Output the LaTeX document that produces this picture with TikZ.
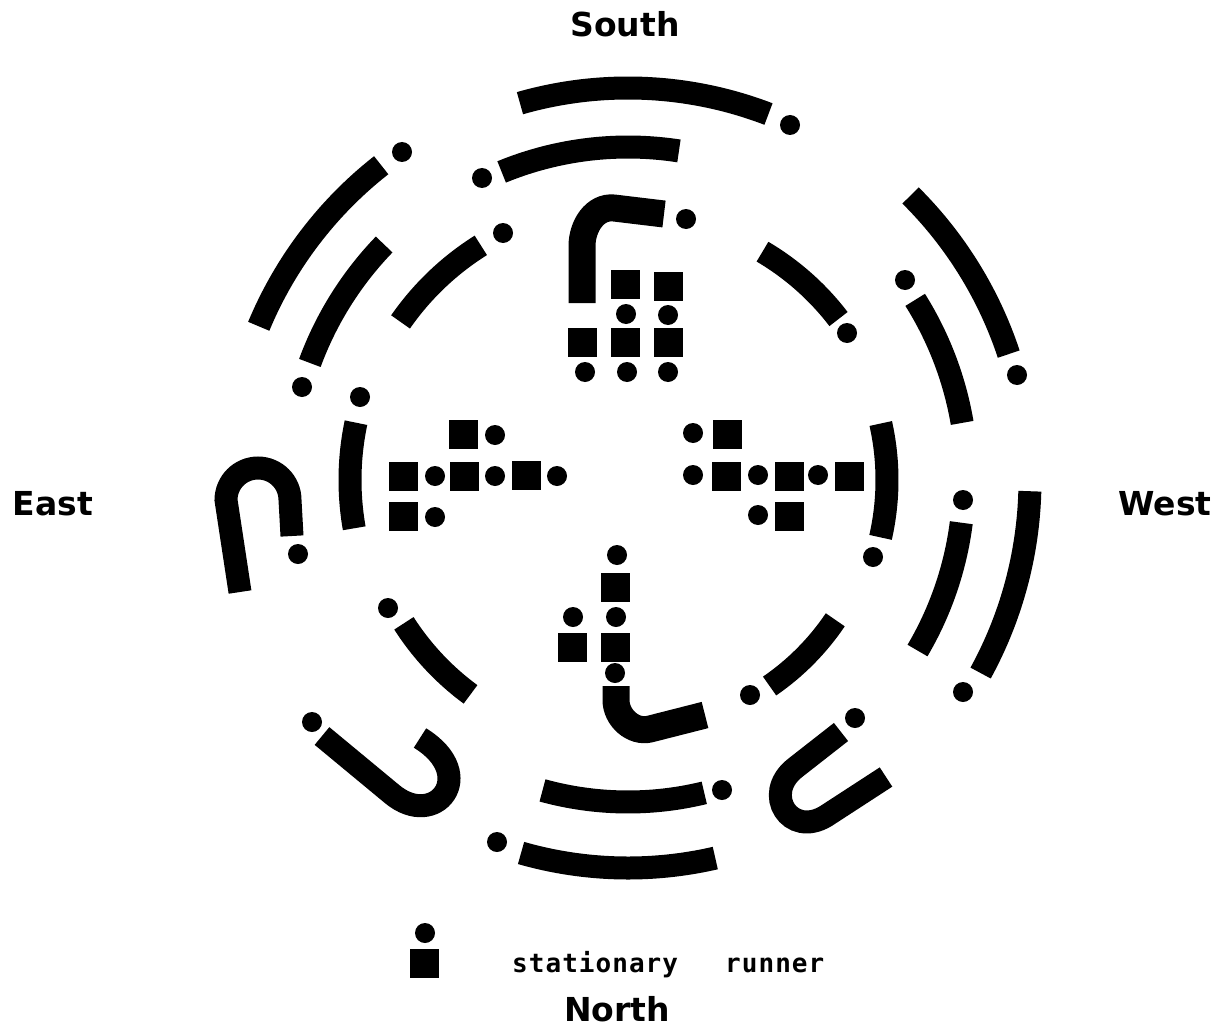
\documentclass[tikz,border=0pt]{standalone}
\usepackage{fontspec}
\newfontfamily\labfont{DejaVu Sans}
\newfontfamily\legfont[LetterSpace=4]{DejaVu Sans Mono}
\begin{document}
\begin{tikzpicture}[x=1pt,y=-1pt,
  ring/.style={line width=23pt},
  hook/.style={line width=27pt},
  compass/.style={font=\labfont\bfseries\fontsize{33}{36}\selectfont, inner sep=0pt, anchor=base},
  legtext/.style={font=\legfont\bfseries\fontsize{26}{28}\selectfont, inner sep=0pt, anchor=base west}]
\useasboundingbox (0,0) rectangle (1222,1027);
\coordinate (C) at (628,480);

% outer ring
\draw[ring] (C) ++(-106:392) arc[start angle=-106, end angle=-69, radius=392];
\draw[ring] (C) ++(-45.2:401) arc[start angle=-45.2, end angle=-18.3, radius=401];
\draw[ring] (C) ++(1.6:402) arc[start angle=1.6, end angle=28.7, radius=402];
\draw[ring] (C) ++(77:388) arc[start angle=77, end angle=106, radius=388];
\draw[ring] (C) ++(-128.1:400) arc[start angle=-128.1, end angle=-157.4, radius=400];

% second ring
\draw[ring] (C) ++(-112.3:333) arc[start angle=-112.3, end angle=-81.2, radius=333];
\draw[ring] (C) ++(-136:339) arc[start angle=-136, end angle=-159.8, radius=339];
\draw[ring] (C) ++(-32.1:339) arc[start angle=-32.1, end angle=-9.7, radius=339];
\draw[ring] (C) ++(7.3:336) arc[start angle=7.3, end angle=30.5, radius=336];
\draw[ring] (C) ++(76.3:322) arc[start angle=76.3, end angle=105.4, radius=322];

% inner ring
\draw[ring] (C) ++(-122.1:277) arc[start angle=-122.1, end angle=-145.2, radius=277];
\draw[ring] (C) ++(-59.5:265) arc[start angle=-59.5, end angle=-37.4, radius=265];
\draw[ring] (C) ++(-168.1:278) arc[start angle=-168.1, end angle=-190, radius=278];
\draw[ring] (C) ++(-12.6:259) arc[start angle=-12.6, end angle=12.8, radius=259];
\draw[ring] (C) ++(147.4:266) arc[start angle=147.4, end angle=126.3, radius=266];
\draw[ring] (C) ++(34:250) arc[start angle=34, end angle=55.5, radius=250];

% U shapes
\draw[ring] (240,592) -- (226,500) arc[start angle=180, end angle=360, radius=32] -- (292,536);
\draw[ring] (322,736) -- (392,794) .. controls (435,830) and (480,775) .. (420,738);
\draw[ring] (841,732) -- (795,768) .. controls (762,794) and (790,838) .. (826,816) -- (886,777);

% hooks (to[] angles are on the page: 90 = up)
\draw[hook] (664,214) -- (614,208) to[out=174,in=90] (582,246) -- (582,303);
\draw[hook] (616,686) -- (616,700) to[out=270,in=194] (650,729) -- (705,715);

% dots
\foreach \x/\y in {402/152, 482/178, 790/125, 686/219, 503/233, 847/333, 905/280, 1017/375,
  302/387, 360/397, 963/500, 873/557, 298/554, 388/608, 312/722, 750/695, 855/718, 963/692,
  722/790, 497/842,
  626/314, 668/315, 585/372, 627/372, 668/372,
  495/435, 435/476, 495/476, 557/476, 435/517,
  693/433, 693/475, 758/475, 818/475, 758/515,
  617/555, 573/617, 616/617, 615/673,
  425/933}
  \fill (\x,\y) circle[radius=10];

% squares
\foreach \x/\y in {625/284, 668/286, 582/342, 625/342, 668/342,
  463/434, 403/476, 464/476, 526/475, 403/516,
  727/434, 726/476, 789/476, 849/476, 789/516,
  615/587, 572/647, 615/647,
  424/963}
  \fill (\x-14.5,\y-14.5) rectangle (\x+14.5,\y+14.5);

% labels
\node[compass] (south) at (625,37) {South};
\node[compass] (east) at (53,515) {East};
\node[compass] (west) at (1165,515) {West};
\node[compass] (north) at (617,1021) {North};
\node[legtext] (stat) at (512,972) {stationary};
\node[legtext] (run) at (725,972) {runner};
\end{tikzpicture}
\end{document}
